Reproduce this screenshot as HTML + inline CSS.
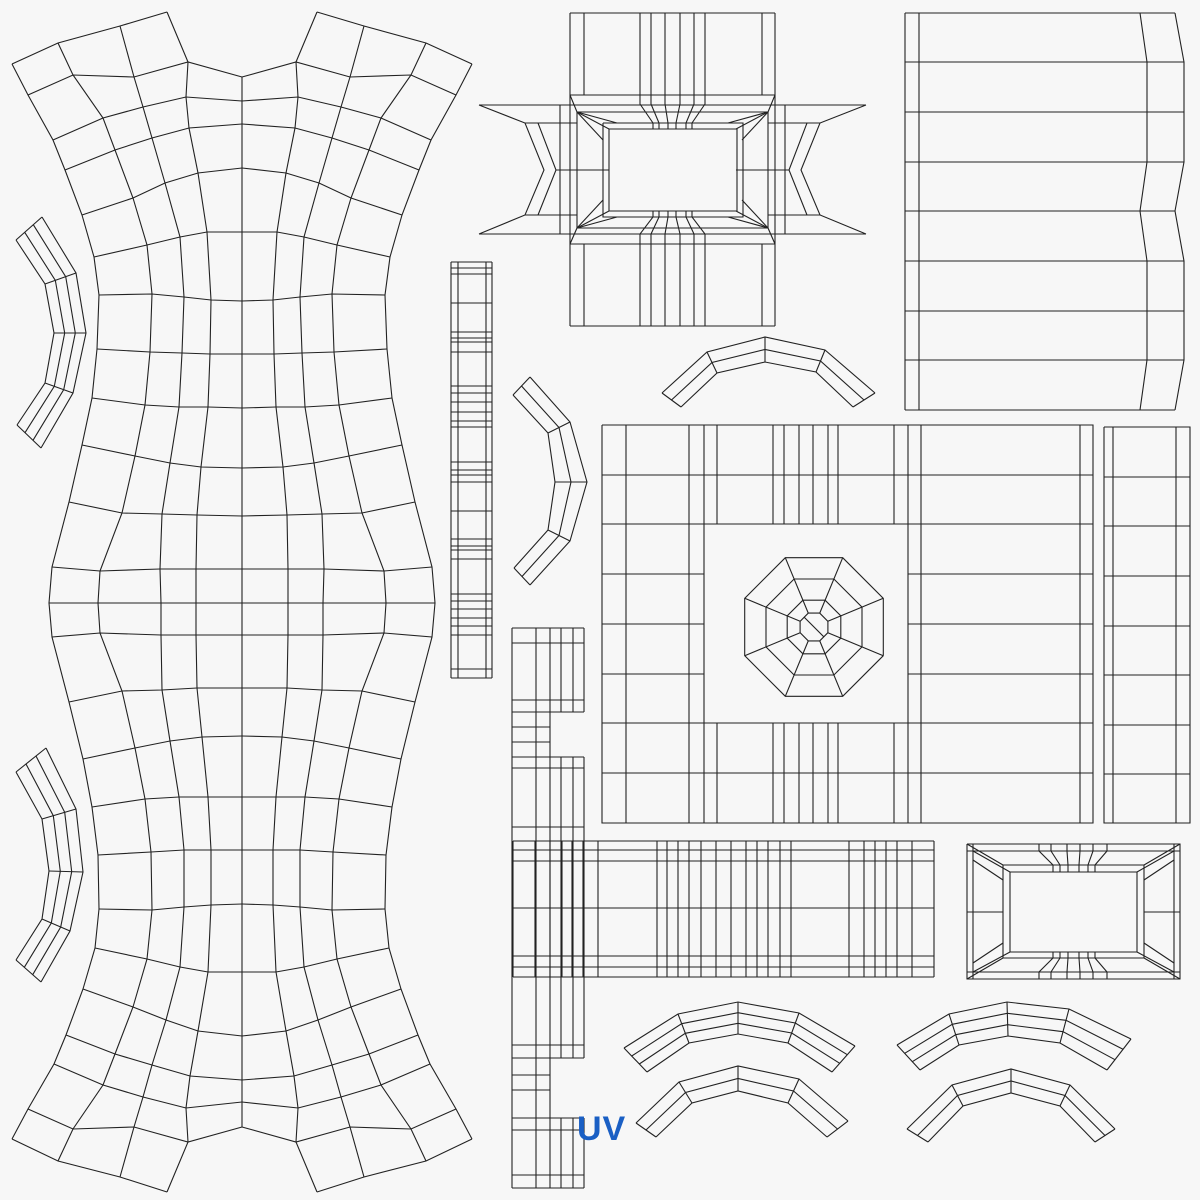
<!DOCTYPE html>
<html><head><meta charset="utf-8">
<style>
html,body{margin:0;padding:0;background:#f7f7f7;}
#wrap{position:relative;width:1200px;height:1200px;overflow:hidden;background:#f7f7f7;}
svg{position:absolute;left:0;top:0;}
#uv{position:absolute;left:577px;top:1109px;font-family:"Liberation Sans",sans-serif;font-weight:bold;font-size:34px;color:#1a5fc4;letter-spacing:1px;line-height:40px;}
</style></head>
<body><div id="wrap">
<svg id="s" width="1200" height="1200" viewBox="0 0 1200 1200" xmlns="http://www.w3.org/2000/svg"><g id="g" fill="none" stroke="#222" stroke-width="1.1"></g></svg>
<div id="uv">UV</div>
</div>
<script>
var g=document.getElementById('g'),out='';
function L(a,b,c,d){out+='<line x1="'+a+'" y1="'+b+'" x2="'+c+'" y2="'+d+'"/>';}
function P(p){out+='<polyline points="'+p.map(function(q){return q[0].toFixed(1)+','+q[1].toFixed(1)}).join(' ')+'"/>';}
function R(x0,y0,x1,y1){P([[x0,y0],[x1,y0],[x1,y1],[x0,y1],[x0,y0]]);}
function mir(p,c){return p.map(function(q){return [2*c-q[0],q[1]];});}
var rows=[
[[12,64],[58,43],[120,26],[167,12]],
[[28,95],[73,75],[134,77],[188,62],[242,77]],
[[53,140],[103,118],[143,107],[186,97],[242,101]],
[[65,170],[115,150],[152,138],[189,128],[242,124]],
[[82,215],[133,198],[165,183],[198,173],[242,168]],
[[94,257],[147,245],[180,237],[207,232],[242,232]],
[[99,295],[152,294],[184,297],[211,300],[242,301]],
[[97,349],[150,352],[182,353],[210,354],[242,354]],
[[92,398],[145,405],[179,407],[208,407],[242,408]],
[[82,445],[135,456],[170,463],[201,467],[242,468]],
[[69,502],[122,513],[162,514],[197,515],[242,516]],
[[52,567],[100,571],[160,569],[196,569],[242,569]],
[[49,603],[98,603],[161,603],[196,603],[242,603]],
[[52,637],[100,633],[161,635],[196,635],[242,635]],
[[69,702],[122,691],[162,690],[197,688],[242,688]],
[[83,759],[135,748],[170,741],[202,737],[242,736]],
[[92,807],[145,799],[179,797],[208,797],[242,797]],
[[98,855],[151,852],[184,850],[211,850],[242,850]],
[[99,909],[152,910],[184,907],[211,905],[242,904]],
[[95,948],[147,959],[180,967],[208,972],[242,972]],
[[83,989],[133,1007],[166,1020],[198,1031],[242,1036]],
[[66,1035],[115,1054],[152,1065],[190,1076],[242,1080]],
[[54,1064],[103,1085],[143,1097],[186,1108],[242,1102]],
[[28,1109],[73,1129],[134,1127],[188,1142],[242,1127]],
[[12,1139],[58,1161],[120,1177],[167,1192]]];
rows.forEach(function(r){P(r);P(mir(r,242));});
for(var i=0;i<4;i++){var c=rows.map(function(r){return r[i];});P(c);P(mir(c,242));}
L(242,77,242,1127);
function arc(S,n){
 S.forEach(function(s){P(s);});
 for(var k=0;k<n;k++){var t=k/(n-1);P(S.map(function(s){return [s[0][0]+(s[1][0]-s[0][0])*t,s[0][1]+(s[1][1]-s[0][1])*t];}));}
}
arc([[[16,240],[42,217]],[[45,284],[76,273]],[[54,333],[86,333]],[[45,383],[73,393]],[[17,425],[41,448]]],4);
arc([[[16,772],[46,748]],[[42,819],[76,809]],[[49,871],[83,872]],[[42,919],[70,931]],[[16,960],[41,982]]],4);
arc([[[513,395],[530,377]],[[548,433],[570,422]],[[555,482],[587,482]],[[548,530],[570,541]],[[514,568],[530,585]]],3);
arc([[[662,393],[681,407]],[[707,352],[717,373]],[[765,337],[765,362]],[[825,350],[816,372]],[[875,393],[853,407]]],3);
arc([[[624,1048],[647,1072]],[[678,1014],[689,1043]],[[738,1002],[738,1034]],[[799,1013],[788,1043]],[[855,1046],[832,1072]]],4);
arc([[[636,1123],[656,1137]],[[679,1082],[692,1103]],[[738,1066],[738,1091]],[[799,1079],[788,1103]],[[848,1121],[827,1137]]],3);
arc([[[897,1045],[920,1070]],[[949,1014],[959,1045]],[[1007,1002],[1008,1036]],[[1069,1009],[1060,1043]],[[1131,1039],[1107,1070]]],4);
arc([[[907,1129],[928,1142]],[[952,1085],[963,1106]],[[1011,1069],[1011,1093]],[[1070,1085],[1060,1106]],[[1115,1129],[1095,1142]]],3);
[451,458,486,492].forEach(function(x){L(x,262,x,678);});
[262,268,274,303,332,338,342,352,386,393,402,412,421,427,462,470,475,482,511,539,546,550,559,594,601,609,618,626,635,669,678].forEach(function(y){L(451,y,492,y);});
function blk(cols,y0,y1,rws){cols.forEach(function(x){L(x,y0,x,y1);});rws.forEach(function(y){L(cols[0],y,cols[cols.length-1],y);});}
var full=[512,536,550,561,573,584],nar=[512,536,550];
blk(full,628,712,[628,643,700,712]);
blk(nar,712,757,[727,742,757]);
blk(full,757,1058,[757,768,827,1045,1058]);
blk(nar,1058,1118,[1075,1090,1118]);
blk(full,1118,1188,[1118,1130,1175,1188]);
[513,535,550,562,572,583,598,657,667,678,689,701,716,731,746,757,768,780,791,849,864,875,886,897,912,934].forEach(function(x){L(x,841,x,977);});
[841,850,861,908,956,967,977].forEach(function(y){L(513,y,934,y);});
L(905,13,905,410);L(919,13,919,410);
var ys=[13,62,112,162,211,261,311,360,410],ax=[1140,1147,1147,1147,1140,1147,1147,1147,1140],bx=[1175,1184,1184,1184,1175,1184,1184,1184,1175];
ys.forEach(function(y,i){L(905,y,bx[i],y);});
P(ys.map(function(y,i){return [ax[i],y];}));P(ys.map(function(y,i){return [bx[i],y];}));
var X0=602,X1=1093,Y0=425,Y1=823;
R(X0,Y0,X1,Y1);
[626,689,704,908,921,1080].forEach(function(x){L(x,Y0,x,Y1);});
[717,773,784,799,813,828,838,894].forEach(function(x){L(x,425,x,524);L(x,723,x,823);});
[475,524,723,773].forEach(function(y){L(X0,y,X1,y);});
[574,624,674].forEach(function(y){L(X0,y,704,y);L(908,y,X1,y);});
R(1104,427,1190,823);L(1113,427,1113,823);L(1176,427,1176,823);
[477,526,576,626,675,725,774].forEach(function(y){L(1104,y,1190,y);});
(function(){var cx=814,cy=627,rs=[15,29,52,75];
 rs.forEach(function(r){var p=[];for(var k=0;k<=8;k++){var a=(22.5+45*k)*Math.PI/180;p.push([cx+r*Math.cos(a),cy+r*Math.sin(a)]);}P(p);});
 for(var k=0;k<8;k++){var a=(22.5+45*k)*Math.PI/180;L(cx+15*Math.cos(a),cy+15*Math.sin(a),cx+75*Math.cos(a),cy+75*Math.sin(a));}
 L(cx-10,cy-10,cx+10,cy+10);
})();
(function(){
 var vx=[570,584,640,651,665,680,694,705,762,775];
 vx.forEach(function(x){L(x,13,x,95);L(x,244,x,326);});
 L(570,13,775,13);L(570,95,775,95);L(570,244,775,244);L(570,326,775,326);
 L(570,95,570,244);L(775,95,775,244);
 L(479,105,866,105);L(479,234,866,234);
 var sides=[function(p){return p;},function(p){return mir(p,672.5);}];
 sides.forEach(function(f){
  P(f([[479,105],[525,123],[544,170],[525,215],[479,234]]));
  P(f([[538,123],[556,170],[538,215]]));
  P(f([[560,105],[560,234]]));
  P(f([[525,123],[577,123]]));P(f([[525,215],[577,215]]));
  P(f([[556,170],[609,170]]));
  P(f([[577,112],[577,228]]));
  P(f([[570,95],[577,112]]));P(f([[570,244],[577,228]]));
  P(f([[577,112],[617,123]]));P(f([[577,112],[603,140]]));P(f([[577,112],[609,129]]));
  P(f([[577,228],[617,217]]));P(f([[577,228],[603,200]]));P(f([[577,228],[609,211]]));
 });
 L(577,112,768,112);L(577,228,768,228);
 R(603,123,743,217);R(609,129,737,211);
 var top=[640,651,665,680,694,705],bot=[653,659,668,676,686,692];
 top.forEach(function(x,i){P([[x,95],[x,104],[bot[i],123],[bot[i],129]]);P([[x,244],[x,234],[bot[i],217],[bot[i],211]]);});
})();
(function(){
 R(967,844,1180,979);L(967,851,1180,851);L(967,972,1180,972);L(973,844,973,979);L(1174,844,1174,979);
 R(1003,865,1144,958);R(1010,872,1137,952);
 L(967,912,1003,912);L(1144,912,1180,912);
 [[967,844,1003,865],[1180,844,1144,865],[967,979,1003,958],[1180,979,1144,958]].forEach(function(d){L(d[0],d[1],d[2],d[3]);});
 P([[973,851],[1010,872]]);P([[1174,851],[1137,872]]);P([[973,972],[1010,952]]);P([[1174,972],[1137,952]]);
 P([[973,860],[1003,880]]);P([[1174,860],[1144,880]]);P([[973,963],[1003,943]]);P([[1174,963],[1144,943]]);
 var t=[1039,1051,1067,1080,1093,1107],b=[1053,1060,1068,1079,1088,1095];
 t.forEach(function(x,i){P([[x,844],[x,851],[b[i],865],[b[i],872]]);P([[x,979],[x,972],[b[i],958],[b[i],952]]);});
})();
g.innerHTML=out;
</script>
</body></html>
